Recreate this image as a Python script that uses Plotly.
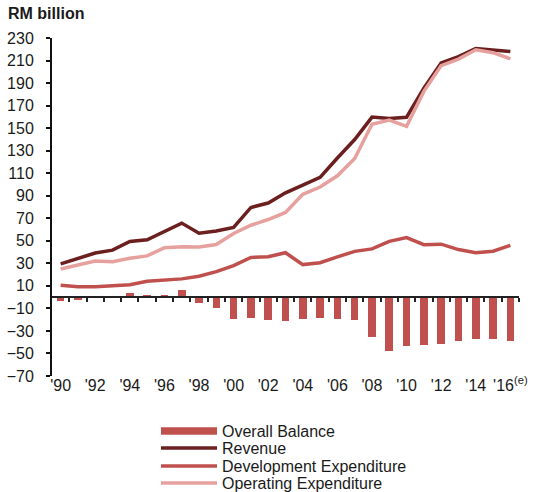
import plotly.graph_objects as go

years = list(range(1990, 2017))
revenue = [29.5, 34.1, 39.2, 41.7, 49.4, 50.9, 58.3, 65.7, 56.7, 58.7, 61.9, 79.6, 83.5, 92.6,
           99.4, 106.3, 123.5, 139.9, 159.8, 158.6, 159.7, 185.4, 207.9, 213.4, 220.6, 219.1, 218.0]
operating = [25.0, 28.2, 32.0, 31.5, 34.5, 36.6, 43.9, 44.7, 44.6, 46.7, 56.5, 63.8, 68.9, 75.2,
             91.3, 97.7, 107.7, 123.1, 153.5, 157.1, 151.6, 182.6, 205.5, 211.3, 219.6, 217.0, 211.5]
development = [10.6, 9.3, 9.2, 9.8, 11.0, 14.0, 15.0, 16.2, 18.5, 22.6, 27.9, 35.2, 35.8, 39.4,
               28.9, 30.5, 35.8, 40.6, 42.8, 49.5, 52.8, 46.5, 47.0, 42.2, 39.5, 40.8, 46.0]
balance = [-3.8, -2.8, -0.6, 0.2, 4.1, 2.0, 1.5, 6.0, -5.0, -9.5, -19.7, -18.4, -20.3, -20.9,
           -19.4, -18.7, -19.1, -20.6, -35.6, -47.4, -43.3, -42.5, -42.0, -38.6, -37.4, -37.2, -38.5]
label_years = list(range(1990, 2017, 2))
label_text = ["'%02d" % (y % 100) for y in label_years]
label_text[-1] = "'16<sup>(e)</sup>"
y_ticks = list(range(-70, 231, 20))

C_BAL = "#C0504D"
C_REV = "#6B1F1F"
C_DEV = "#C0504D"
C_OPE = "#E6A19E"
FONT = "Liberation Sans, Arial, sans-serif"
TXT = "#1a1a1a"

fig = go.Figure()
fig.add_trace(go.Bar(x=years, y=balance, marker=dict(color=C_BAL, line_width=0), width=0.44,
                     xaxis="x2", showlegend=False, name="Overall Balance"))
# legend entry for the bars (wide rectangle symbol)
fig.add_trace(go.Scatter(x=[None], y=[None], mode="lines", line=dict(color=C_BAL, width=7.5),
                         name="Overall Balance", legend="legend"))
fig.add_trace(go.Scatter(x=years, y=revenue, mode="lines", line=dict(color=C_REV, width=3.5),
                         name="Revenue", legend="legend2"))
fig.add_trace(go.Scatter(x=years, y=development, mode="lines", line=dict(color=C_DEV, width=3.5),
                         name="Development Expenditure", legend="legend3"))
fig.add_trace(go.Scatter(x=years, y=operating, mode="lines", line=dict(color=C_OPE, width=3.5),
                         name="Operating Expenditure", legend="legend4"))


def leg(cy):
    return dict(x=156 / 539, xanchor="left", xref="container",
                y=1 - cy / 492, yanchor="middle", yref="container",
                font=dict(family=FONT, size=16, color=TXT), itemwidth=56,
                bgcolor="rgba(0,0,0,0)", borderwidth=0)


fig.update_layout(
    width=539, height=492,
    margin=dict(l=52, r=20, t=38, b=116, autoexpand=False),
    paper_bgcolor="white", plot_bgcolor="white",
    font=dict(family=FONT, size=16, color=TXT),
    title=dict(text="<b>RM billion</b>", x=8 / 539, xanchor="left", xref="container",
               y=1 - 13 / 492, yanchor="middle", yref="container",
               font=dict(family=FONT, size=16, color=TXT)),
    bargap=0,
    xaxis=dict(range=[1989.5, 2016.5], showline=False, showgrid=False, zeroline=False,
               automargin=False, ticklabeloverflow="allow",
               tickmode="array", tickvals=label_years, ticktext=label_text, ticks="",
               ticklabelstandoff=-2, tickfont=dict(size=16)),
    xaxis2=dict(range=[1989.5, 2016.5], overlaying="x", anchor="free", position=70 / 300,
                side="bottom", showline=True, linecolor="#222", linewidth=1.5,
                showgrid=False, zeroline=False, showticklabels=False, automargin=False,
                tickmode="array", tickvals=[y + 0.5 for y in years],
                ticks="outside", ticklen=4, tickwidth=1.5, tickcolor="#222"),
    yaxis=dict(range=[-70, 230], tickmode="array", tickvals=y_ticks, showgrid=False,
               zeroline=False, showline=True, linecolor="#111", linewidth=2, automargin=False,
               ticks="outside", ticklen=4, tickwidth=1.5, tickcolor="#111",
               ticklabelstandoff=9, tickfont=dict(size=16)),
    legend=leg(431),
    legend2=leg(448),
    legend3=leg(466),
    legend4=leg(483),
)

fig.write_html("out.html", config={"displayModeBar": False},
               post_script="document.body.style.margin='0';document.body.style.padding='0';")
